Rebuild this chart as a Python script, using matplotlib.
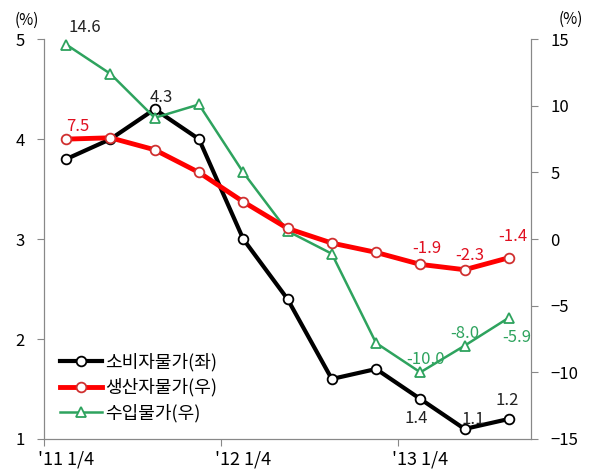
import matplotlib
matplotlib.use("Agg")
import matplotlib.pyplot as plt
from matplotlib.ticker import FixedLocator, NullFormatter

plt.rcParams['font.family'] = ['Noto Sans CJK KR', 'DejaVu Sans']

# 분기별 물가 상승률 ('11 1/4 ~ '13 3/4)
quarters = list(range(11))
tick_labels = ["'11 1/4", "'12 1/4", "'13 1/4"]
label_pos = [0, 4, 8]
cpi = [3.8, 4.0, 4.3, 4.0, 3.0, 2.4, 1.6, 1.7, 1.4, 1.1, 1.2]        # 소비자물가(좌)
ppi = [7.5, 7.6, 6.7, 5.0, 2.8, 0.8, -0.3, -1.0, -1.9, -2.3, -1.4]   # 생산자물가(우)
imp = [14.6, 12.4, 9.1, 10.1, 5.0, 0.6, -1.1, -7.8, -10.0, -8.0, -5.9]  # 수입물가(우)

names = ["소비자물가(좌)", "생산자물가(우)", "수입물가(우)"]
c_black, c_red, c_green = "#000000", "#ff0000", "#2ea35e"

fig = plt.figure(figsize=(5.91, 4.72), dpi=100)
ax = fig.add_axes([0.0745, 0.070, 0.824, 0.847])
ax2 = ax.twinx()

l1, = ax.plot(quarters, cpi, color=c_black, lw=3, marker="o", ms=7,
              mfc="white", mec=c_black, mew=1.3, label=names[0], zorder=3)
l2, = ax2.plot(quarters, ppi, color=c_red, lw=3.5, marker="o", ms=7,
               mfc="white", mec="#d03030", mew=1.3, label=names[1], zorder=3)
l3, = ax2.plot(quarters, imp, color=c_green, lw=1.8, marker="^", ms=7.5,
               mfc="white", mec=c_green, mew=1.3, label=names[2], zorder=2)

ax.set_xlim(-0.5, 10.5)
ax.set_ylim(1, 5)
ax.set_yticks([1, 2, 3, 4, 5])
ax2.set_ylim(-15, 15)
ax2.set_yticks([-15, -10, -5, 0, 5, 10, 15])

# x축: 눈금은 구간 경계, 라벨은 해당 분기 위치
ax.xaxis.set_major_locator(FixedLocator([-0.5, 3.5, 7.5]))
ax.xaxis.set_major_formatter(NullFormatter())
ax.set_xticks(label_pos, minor=True)
ax.set_xticklabels(tick_labels, minor=True)
ax.tick_params(axis="x", which="minor", length=0, pad=8, labelsize=13)
ax.tick_params(axis="x", which="major", length=5, color="#888888")

for a in (ax, ax2):
    a.spines["top"].set_visible(False)
    for s in ("left", "right", "bottom"):
        a.spines[s].set_color("#888888")
    a.tick_params(axis="y", length=5, color="#888888", labelsize=12, pad=9)

# 데이터 라벨
def lab(a, x, y, txt, color, dx, dy):
    a.annotate(txt, (x, y), xytext=(dx, dy), textcoords="offset points",
               ha="center", va="center", color=color, fontsize=12)

lab(ax, 2, cpi[2], "4.3", "#222222", 5, 8.5)
lab(ax, 8, cpi[8], "1.4", "#222222", -3, -14)
lab(ax, 9, cpi[9], "1.1", "#222222", 6, 6.5)
lab(ax, 10, cpi[10], "1.2", "#222222", -1, 13.5)

lab(ax2, 0, ppi[0], "7.5", "#e01020", 8, 9)
lab(ax2, 8, ppi[8], "-1.9", "#e01020", 5, 11.5)
lab(ax2, 9, ppi[9], "-2.3", "#e01020", 3.5, 10)
lab(ax2, 10, ppi[10], "-1.4", "#e01020", 2.5, 15)

lab(ax2, 0, imp[0], "14.6", "#222222", 13.5, 12)
lab(ax2, 8, imp[8], "-10.0", c_green, 3.5, 9)
lab(ax2, 9, imp[9], "-8.0", c_green, 0, 9)
lab(ax2, 10, imp[10], "-5.9", c_green, 6, -14)

fig.text(0.046, 0.956, "(%)", ha="center", va="center", fontsize=11)
fig.text(0.965, 0.960, "(%)", ha="center", va="center", fontsize=11)

leg = ax.legend(handles=[l1, l2, l3], loc="lower left",
                bbox_to_anchor=(0.0, 0.0), frameon=False, fontsize=13,
                handlelength=2.3, handletextpad=0.2, labelspacing=0.4)

fig.savefig("out.png", dpi=100)
